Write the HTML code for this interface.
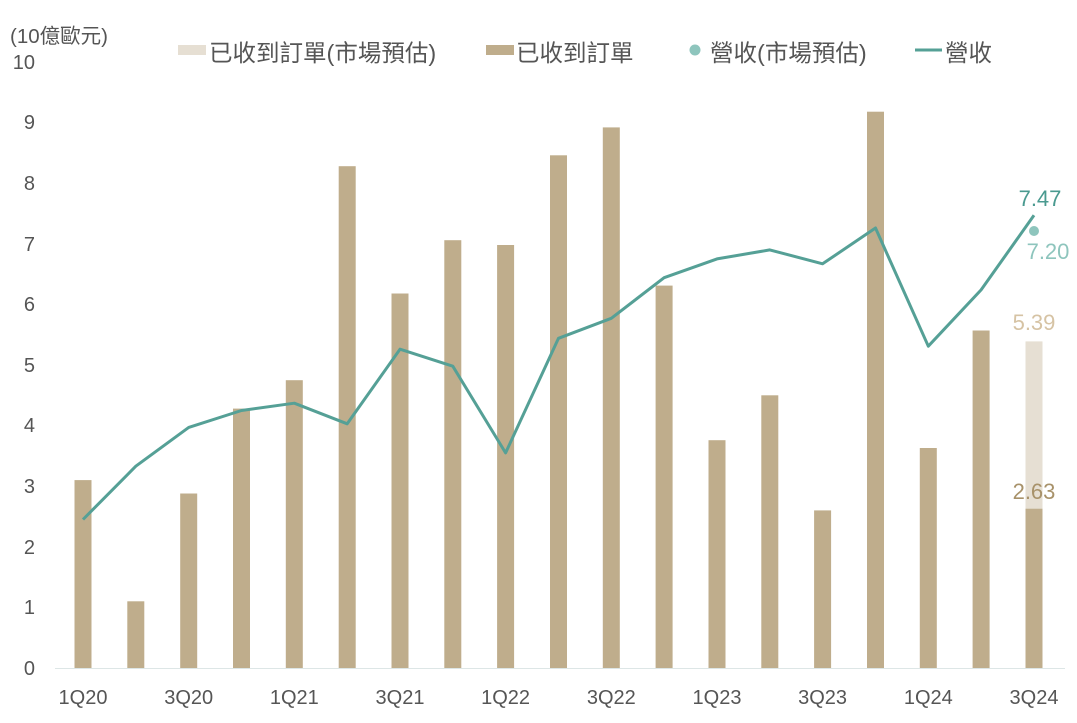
<!DOCTYPE html>
<html><head><meta charset="utf-8"><style>
body{margin:0;background:#fff}
text{font-family:"Liberation Sans","Noto Sans CJK TC",sans-serif;}
</style></head><body>
<svg width="1077" height="718" xmlns="http://www.w3.org/2000/svg">
<g fill="#555" font-size="20" text-anchor="end">
<text x="35" y="675">0</text><text x="35" y="614">1</text><text x="35" y="554">2</text>
<text x="35" y="493">3</text><text x="35" y="432">4</text><text x="35" y="372">5</text>
<text x="35" y="311">6</text><text x="35" y="251">7</text><text x="35" y="190">8</text>
<text x="35" y="129">9</text><text x="35" y="69">10</text>
</g>
<text x="10" y="43" fill="#555" font-size="20.5">(10億歐元)</text>
<line x1="55" y1="668.5" x2="1065" y2="668.5" stroke="#dde6e6" stroke-width="1"/>
<g fill="#bfad8c">
<rect x="74.5" y="480.1" width="17" height="187.9"/>
<rect x="127.3" y="601.3" width="17" height="66.7"/>
<rect x="180.2" y="493.5" width="17" height="174.5"/>
<rect x="233" y="408.6" width="17" height="259.4"/>
<rect x="285.8" y="380.2" width="17" height="287.8"/>
<rect x="338.7" y="166.2" width="17" height="501.8"/>
<rect x="391.5" y="293.5" width="17" height="374.5"/>
<rect x="444.3" y="240.2" width="17" height="427.8"/>
<rect x="497.1" y="245" width="17" height="423"/>
<rect x="550" y="155.3" width="17" height="512.7"/>
<rect x="602.8" y="127.4" width="17" height="540.6"/>
<rect x="655.6" y="285.6" width="17" height="382.4"/>
<rect x="708.5" y="440.2" width="17" height="227.8"/>
<rect x="761.3" y="395.3" width="17" height="272.7"/>
<rect x="814.1" y="510.4" width="17" height="157.6"/>
<rect x="867" y="111.7" width="17" height="556.3"/>
<rect x="919.8" y="448" width="17" height="220"/>
<rect x="972.6" y="330.5" width="17" height="337.5"/>
<rect x="1025.5" y="508.6" width="17" height="159.4"/>
</g>
<rect x="1025.5" y="341.4" width="17" height="167.2" fill="#e6dfd3"/>
<polyline fill="none" stroke="#55a096" stroke-width="3" stroke-linejoin="round" points="83,519.5 135.8,466.2 188.7,427.4 241.5,410.5 294.3,403.2 347.2,423.8 400,349.2 452.8,366.2 505.6,452.9 558.5,338.3 611.3,318.3 664.1,277.7 717,258.9 769.8,249.9 822.6,263.8 875.5,228 928.3,346.2 981.1,289.9 1034,215.3"/>
<circle cx="1034" cy="231" r="5" fill="#8ec5bd"/>
<text x="1040" y="206" fill="#4a9a90" font-size="22" text-anchor="middle">7.47</text>
<text x="1048" y="259" fill="#8ec5bd" font-size="22" text-anchor="middle">7.20</text>
<text x="1034" y="330" fill="#d6c3a4" font-size="22" text-anchor="middle">5.39</text>
<text x="1034" y="499" fill="#a8926a" font-size="22" text-anchor="middle">2.63</text>
<g fill="#555" font-size="20" text-anchor="middle">
<text x="83" y="704">1Q20</text><text x="188.7" y="704">3Q20</text><text x="294.3" y="704">1Q21</text>
<text x="400" y="704">3Q21</text><text x="505.6" y="704">1Q22</text><text x="611.3" y="704">3Q22</text>
<text x="717" y="704">1Q23</text><text x="822.6" y="704">3Q23</text><text x="928.3" y="704">1Q24</text>
<text x="1034" y="704">3Q24</text>
</g>
<g font-size="23.5" fill="#555">
<rect x="178" y="45" width="28" height="10" fill="#e6dfd3"/>
<text x="209" y="61">已收到訂單(市場預估)</text>
<rect x="486" y="45" width="28" height="10" fill="#bfad8c"/>
<text x="516" y="61">已收到訂單</text>
<circle cx="695" cy="50" r="5.5" fill="#8ec5bd"/>
<text x="710" y="61">營收(市場預估)</text>
<line x1="915" y1="50" x2="942" y2="50" stroke="#55a096" stroke-width="3"/>
<text x="945" y="61">營收</text>
</g>
</svg>
</body></html>
